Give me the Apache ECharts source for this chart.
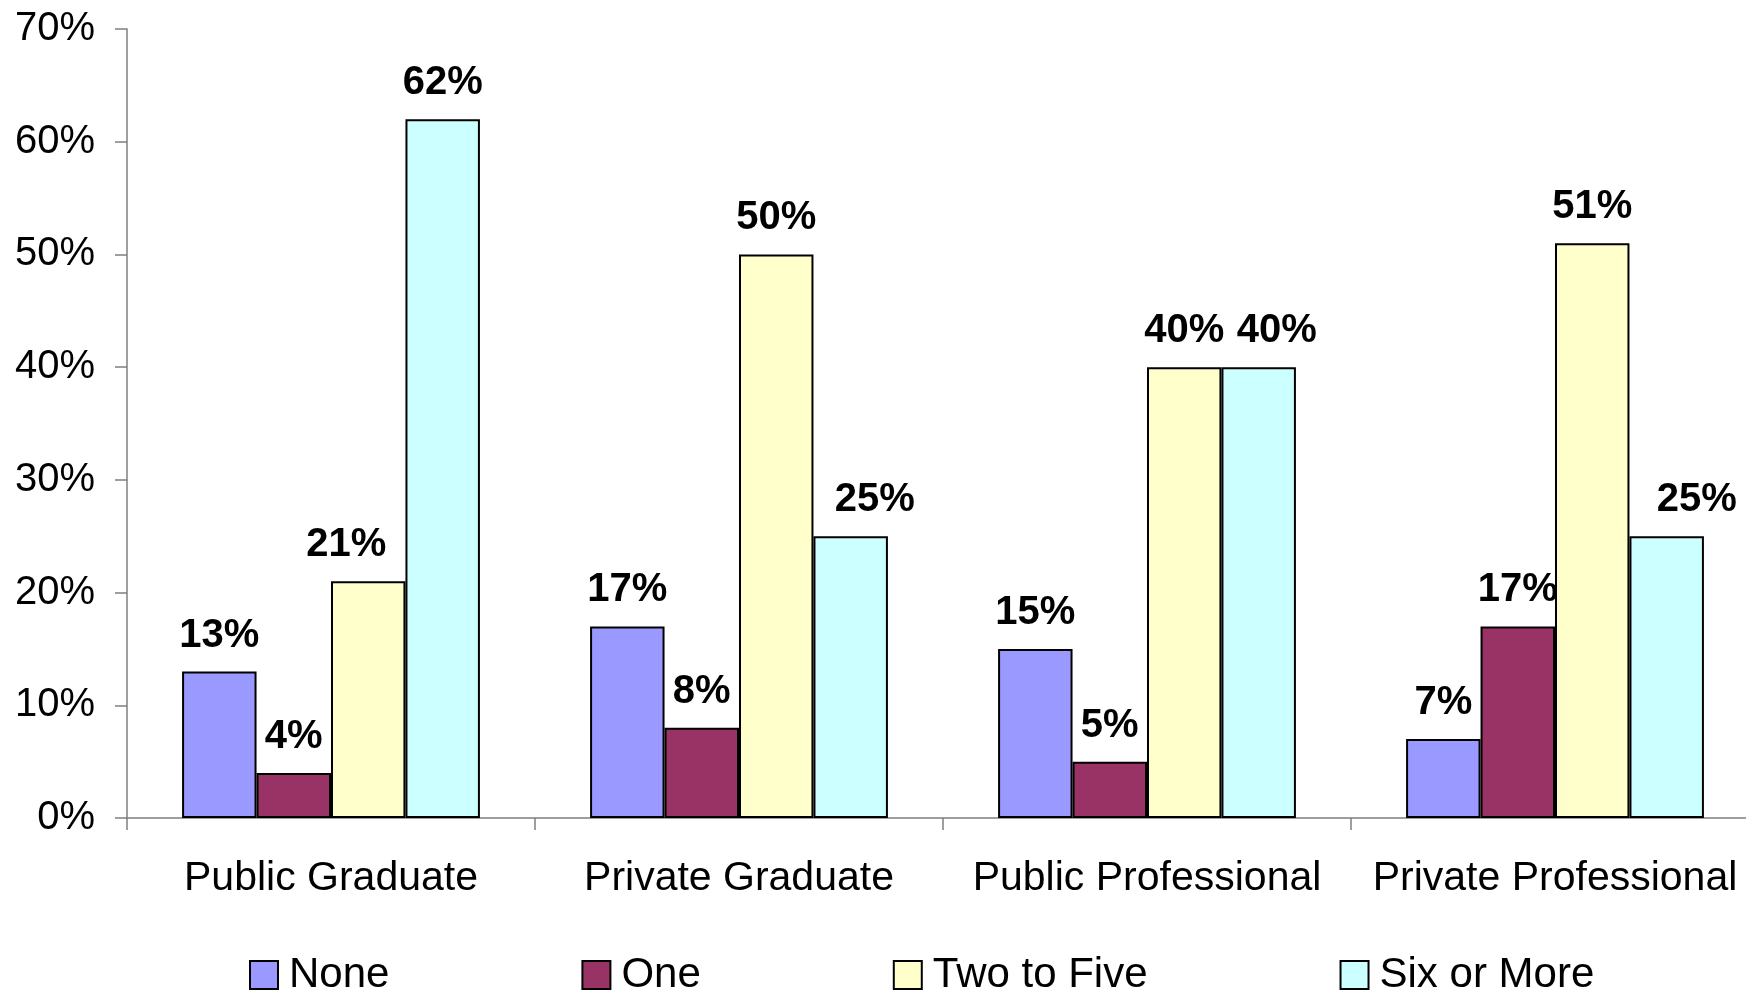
<!DOCTYPE html>
<html>
<head>
<meta charset="utf-8">
<title>Programs by type</title>
<script src="https://cdn.jsdelivr.net/npm/echarts@6/dist/echarts.min.js"></script>
<style>
  html, body { margin: 0; padding: 0; background: #ffffff; overflow: hidden; }
  #chart { width: 1759px; height: 992px; }
</style>
</head>
<body>
<div id="chart"></div>
<script>
const categories = ['Public Graduate', 'Private Graduate', 'Public Professional', 'Private Professional'];
const seriesNames = ['None', 'One', 'Two to Five', 'Six or More'];
const noneValues = [13, 17, 15, 7];
const oneValues = [4, 8, 5, 17];
const twoToFiveValues = [21, 50, 40, 51];
const sixOrMoreValues = [62, 25, 40, 25];
const yTicks = [0, 10, 20, 30, 40, 50, 60, 70];

const seriesValues = [noneValues, oneValues, twoToFiveValues, sixOrMoreValues];
const colors = ['#9999FF', '#993366', '#FFFFCC', '#CCFFFF'];
const FONT = '"Liberation Sans", Arial, sans-serif';

// Hand-placed value labels: sideways nudge (px) for labels moved off a taller neighbouring bar.
const labelNudgeX = {
  'Two to Five': [-22, 0, 0, 0],
  'Six or More': [0, 24, 18, 30]
};

const chart = echarts.init(document.getElementById('chart'), null, { renderer: 'canvas' });

function makeLabelLayout(name) {
  const nudge = labelNudgeX[name];
  return function (params) {
    if (!nudge || !nudge[params.dataIndex]) return {};
    return { dx: nudge[params.dataIndex] };
  };
}

chart.setOption({
  backgroundColor: '#ffffff',
  animation: false,
  color: colors,
  // the plot runs slightly past the right edge of the page
  grid: { left: 127, top: 29, bottom: 174, right: 0, containLabel: false },
  legend: {
    left: 249,
    top: 954,
    padding: 0,
    itemWidth: 28,
    itemHeight: 28,
    itemGap: 192,
    icon: 'rect',
    itemStyle: { borderColor: '#000000', borderWidth: 2 },
    textStyle: { fontFamily: FONT, fontSize: 42, lineHeight: 42, color: '#000000', padding: [0, 0, 0, 6] },
    data: seriesNames
  },
  xAxis: {
    type: 'category',
    data: categories,
    boundaryGap: true,
    axisLine: { show: true, lineStyle: { color: '#7f7f7f', width: 1.5 } },
    axisTick: { show: true, length: 12, lineStyle: { color: '#7f7f7f', width: 1.5 } },
    axisLabel: { fontFamily: FONT, fontSize: 41, color: '#000000', margin: 40, interval: 0 },
    splitLine: { show: false }
  },
  yAxis: {
    type: 'value',
    min: yTicks[0],
    max: yTicks[yTicks.length - 1],
    interval: 10,
    axisLine: { show: true, lineStyle: { color: '#7f7f7f', width: 1.5 } },
    axisTick: { show: true, length: 12, lineStyle: { color: '#7f7f7f', width: 1.5 } },
    axisLabel: { fontFamily: FONT, fontSize: 40, color: '#000000', margin: 32, formatter: '{value}%' },
    splitLine: { show: false }
  },
  series: seriesNames.map((name, i) => ({
    name: name,
    type: 'bar',
    data: seriesValues[i],
    barGap: '0%',
    barCategoryGap: '27%',
    itemStyle: { color: colors[i], borderColor: '#000000', borderWidth: 2 },
    label: {
      show: true,
      position: 'top',
      distance: 16,
      formatter: '{c}%',
      fontFamily: FONT,
      fontSize: 40,
      fontWeight: 'bold',
      color: '#000000'
    },
    labelLayout: makeLabelLayout(name)
  }))
});
</script>
</body>
</html>
